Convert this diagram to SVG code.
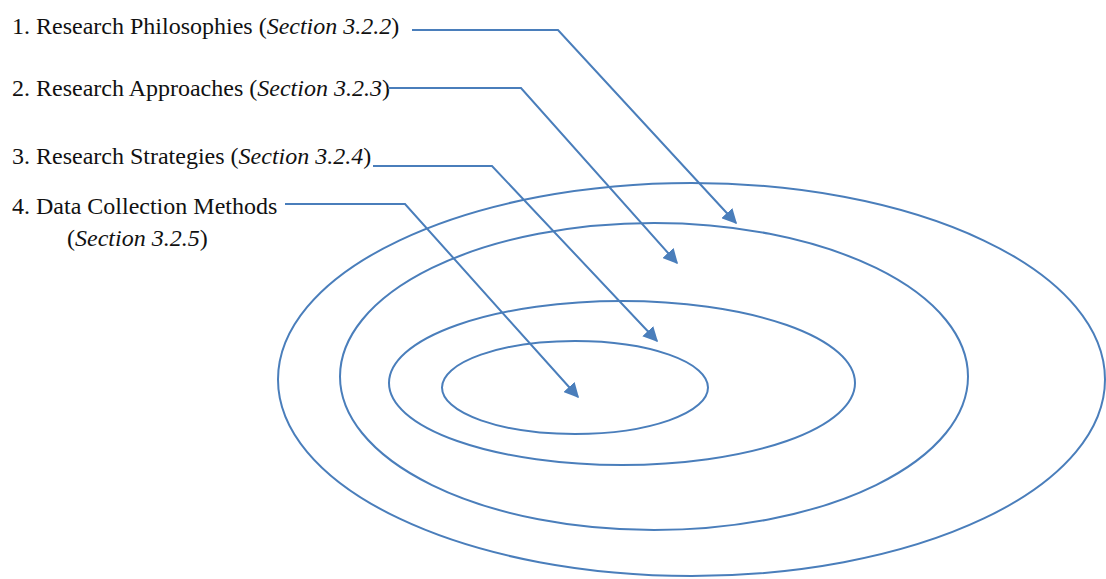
<svg xmlns="http://www.w3.org/2000/svg" width="1106" height="579" viewBox="0 0 1106 579">
<style>
.lbl{font-family:"Liberation Serif","Times New Roman",serif;font-size:24px;fill:#111}
.it{font-style:italic}
.ring{fill:none;stroke:#4a7ebb;stroke-width:2}
.con{fill:none;stroke:#4a7ebb;stroke-width:2}
</style>
<defs>
<marker id="arr" viewBox="0 0 10 10" refX="9" refY="5" markerWidth="7.5" markerHeight="7.5" markerUnits="strokeWidth" orient="auto">
<path d="M0,0 L10,5 L0,10 z" fill="#4a7ebb"/>
</marker>
</defs>
<rect width="1106" height="579" fill="#fff"/>
<g id="rings">
<ellipse id="ring1" class="ring" cx="691.5" cy="379.5" rx="413.5" ry="196.5"/>
<ellipse id="ring2" class="ring" cx="654" cy="376.5" rx="314" ry="153.5"/>
<ellipse id="ring3" class="ring" cx="622" cy="383" rx="233" ry="82"/>
<ellipse id="ring4" class="ring" cx="575" cy="387.5" rx="133" ry="46.5"/>
</g>
<g id="label1"><text class="lbl" x="12" y="34">1. Research Philosophies (<tspan class="it">Section 3.2.2</tspan>)</text></g>
<g id="label2"><text class="lbl" x="12" y="96">2. Research Approaches (<tspan class="it">Section 3.2.3</tspan>)</text></g>
<g id="label3"><text class="lbl" x="12" y="164">3. Research Strategies (<tspan class="it">Section 3.2.4</tspan>)</text></g>
<g id="label4"><text class="lbl" x="12" y="214">4. Data Collection Methods</text><text class="lbl" x="67" y="246">(<tspan class="it">Section 3.2.5</tspan>)</text></g>
<g id="connectors">
<path class="con" d="M412,30 H558 L736,223" marker-end="url(#arr)"/>
<path class="con" d="M388,88 H521 L677,263" marker-end="url(#arr)"/>
<path class="con" d="M373,166 H492 L657,341" marker-end="url(#arr)"/>
<path class="con" d="M285,204 H405 L578,397" marker-end="url(#arr)"/>
</g>
</svg>
